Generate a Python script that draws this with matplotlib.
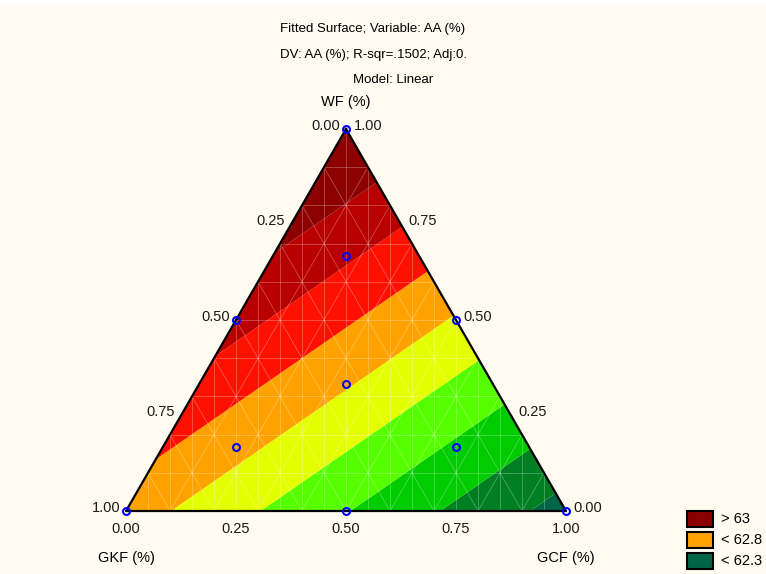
import numpy as np
import matplotlib
matplotlib.use('Agg')
import matplotlib.pyplot as plt
import matplotlib.tri as mtri
from matplotlib.patches import Rectangle

plt.rcParams['font.family'] = ['Liberation Sans', 'DejaVu Sans']

# linear model AA = b1*WF + b2*GKF + b3*GCF (pure component estimates)
coef_wf = 63.12
coef_gkf = 62.75
coef_gcf = 62.26

# contour levels and colours, low -> high
levels = [62.0, 62.3, 62.4, 62.5, 62.6, 62.7, 62.8, 62.9, 63.0, 63.5]
band_colors = ['#006446', '#007f22', '#00cc00', '#55ff00', '#e4ff00',
               '#ffa200', '#ff1000', '#b80000', '#8c0000']

# design points (WF, GKF, GCF)
pts_wf = [1, 0, 0, 0.5, 0.5, 0, 1/3, 2/3, 1/6, 1/6]
pts_gkf = [0, 1, 0, 0.5, 0, 0.5, 1/3, 1/6, 2/3, 1/6]
pts_gcf = [0, 0, 1, 0, 0.5, 0.5, 1/3, 1/6, 1/6, 2/3]

ticks = [0.0, 0.25, 0.5, 0.75, 1.0]
tick_labels = ['0.00', '0.25', '0.50', '0.75', '1.00']

legend_labels = ['> 63', '< 62.8', '< 62.3']
legend_colors = ['#8c0000', '#ffa200', '#006446']

H = np.sqrt(3) / 2
bg = '#fffbf0'


def to_xy(wf, gkf, gcf):
    wf = np.asarray(wf, dtype=float)
    gcf = np.asarray(gcf, dtype=float)
    return gcf + wf / 2, wf * H


fig = plt.figure(figsize=(7.66, 5.74), dpi=100, facecolor=bg)
fig.patches.append(Rectangle((0, 1 - 5/574), 1, 5/574, transform=fig.transFigure,
                             facecolor='white', edgecolor='none', zorder=0))
ax = fig.add_axes([126/766, 63/574, 440/766, 382/574])
ax.set_xlim(0, 1)
ax.set_ylim(0, H)
ax.axis('off')

# surface on a lattice inside the triangle
n = 40
W, K, C = [], [], []
for i in range(n + 1):
    for j in range(n + 1 - i):
        W.append(i / n)
        K.append(j / n)
        C.append((n - i - j) / n)
W, K, C = np.array(W), np.array(K), np.array(C)
Z = coef_wf * W + coef_gkf * K + coef_gcf * C
gx, gy = to_xy(W, K, C)
tri = mtri.Triangulation(gx, gy)
ax.tricontourf(tri, Z, levels=levels, colors=band_colors, antialiased=True)

# mesh lines
mesh = dict(color='white', alpha=0.3, lw=0.6, zorder=2)
for k in range(1, 10):
    v = k / 10
    x, y = to_xy([v, v], [1 - v, 0], [0, 1 - v])
    ax.plot(x, y, **mesh)
    x, y = to_xy([1 - v, 0], [0, 1 - v], [v, v])
    ax.plot(x, y, **mesh)
    x, y = to_xy([1 - v, 0], [v, v], [0, 1 - v])
    ax.plot(x, y, **mesh)
for j in range(1, 20):
    x = j / 20
    ax.plot([x, x], [0, 2 * H * min(x, 1 - x)], **mesh)

# outline
ox, oy = to_xy([1, 0, 0, 1], [0, 1, 0, 0], [0, 0, 1, 0])
ax.plot(ox, oy, color='black', lw=1.6, zorder=3, clip_on=False)

# points
px, py = to_xy(pts_wf, pts_gkf, pts_gcf)
ax.plot(px, py, 'o', ms=5, mfc='none', mec='#0000ff', mew=1.5, zorder=4, clip_on=False)

fs = 10.5
for t, lab in zip(ticks, tick_labels):
    # GKF along left edge
    x, y = to_xy(1 - t, t, 0)
    ax.annotate(lab, (x, y), xytext=(-20, 3), textcoords='offset pixels',
                ha='center', va='center', fontsize=fs, color='#1a1a1a')
    # WF along right edge
    x, y = to_xy(t, 0, 1 - t)
    ax.annotate(lab, (x, y), xytext=(22, 3), textcoords='offset pixels',
                ha='center', va='center', fontsize=fs, color='#1a1a1a')
    # GCF along bottom
    x, y = to_xy(0, 1 - t, t)
    ax.annotate(lab, (x, y), xytext=(0, -18), textcoords='offset pixels',
                ha='center', va='center', fontsize=fs, color='#1a1a1a')

fig.text(346/766, 1 - 102/574, 'WF (%)', ha='center', va='center', fontsize=fs)
fig.text(126/766, 1 - 558/574, 'GKF (%)', ha='center', va='center', fontsize=fs)
fig.text(566/766, 1 - 558/574, 'GCF (%)', ha='center', va='center', fontsize=fs)

fig.text(373/766, 1 - 29/574, 'Fitted Surface; Variable: AA (%)', ha='center', va='center', fontsize=9.5)
fig.text(373/766, 1 - 55/574, 'DV: AA (%); R-sqr=.1502; Adj:0.', ha='center', va='center', fontsize=9.5)
fig.text(393/766, 1 - 80/574, 'Model: Linear', ha='center', va='center', fontsize=9.5)

# legend
for i, (lab, col) in enumerate(zip(legend_labels, legend_colors)):
    yc = 519 + i * 21
    fig.patches.append(Rectangle((687/766, 1 - (yc + 8)/574), 26/766, 16/574,
                                 transform=fig.transFigure, facecolor=col,
                                 edgecolor='black', lw=1.5))
    fig.text(721/766, 1 - yc/574, lab, ha='left', va='center', fontsize=fs)

fig.savefig('out.png', dpi=100, facecolor=bg)
